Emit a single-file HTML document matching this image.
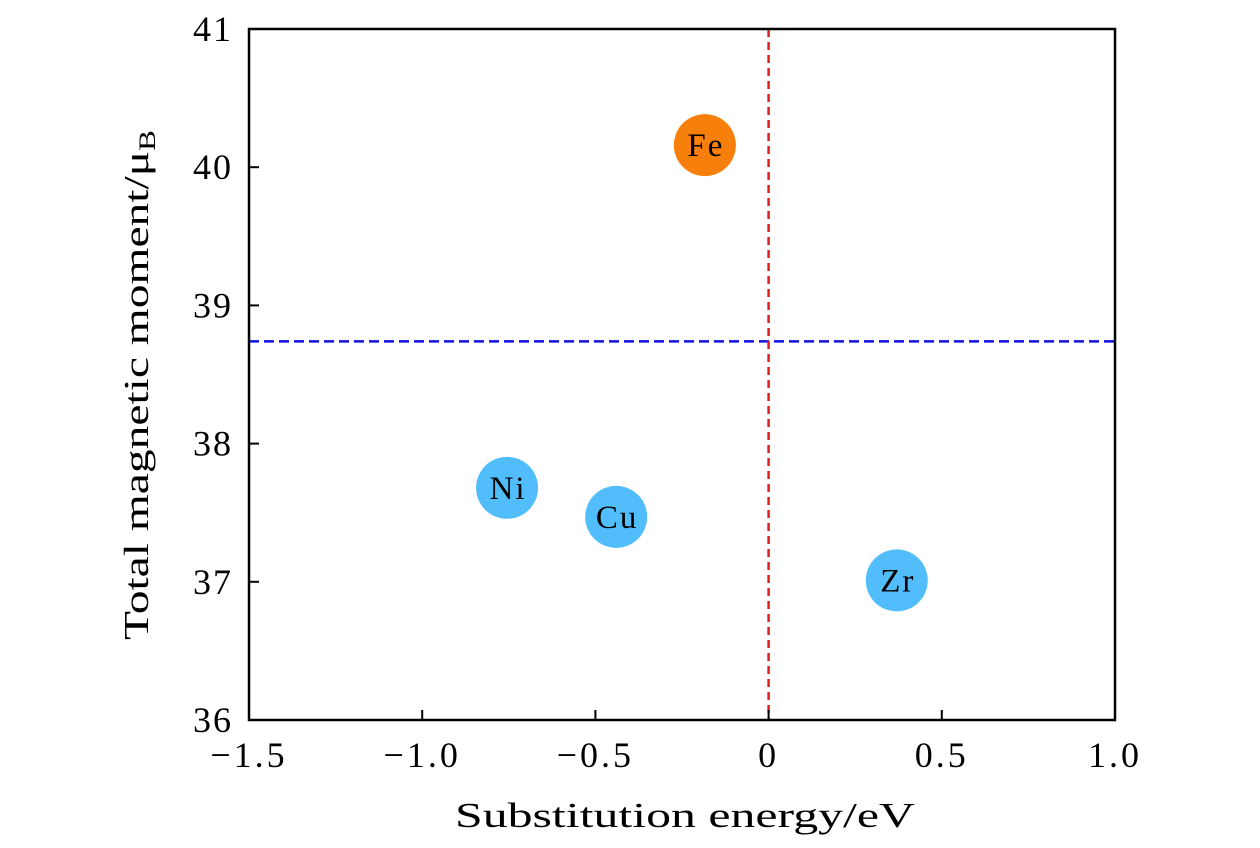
<!DOCTYPE html>
<html><head><meta charset="utf-8"><style>
body{margin:0;background:#fff}
svg text{font-family:"Liberation Serif",serif;fill:#000}
</style></head><body>
<svg id="chart" width="1260" height="843" viewBox="0 0 1260 843" xmlns="http://www.w3.org/2000/svg">
<g id="plot"></g>
</svg>
<script>
const xTicks=[-1.5,-1.0,-0.5,0,0.5,1.0];
const xTickLabels=["\u22121.5","\u22121.0","\u22120.5","0","0.5","1.0"];
const yTicks=[36,37,38,39,40,41];
const labels=["Fe","Ni","Cu","Zr"];
const energies=[-0.184,-0.755,-0.44,0.37];
const moments=[40.16,37.68,37.47,37.01];
const colors=["#f77f0b","#52bdfb","#52bdfb","#52bdfb"];
const refMoment=38.74;
const refEnergy=0;
const L=249,R=1115,T=29,B=720;
const X=v=>L+(v+1.5)/2.5*(R-L);
const Y=v=>B-(v-36)/5*(B-T);
const NS="http://www.w3.org/2000/svg";
const g=document.getElementById('plot');
function mk(t,a,p){const e=document.createElementNS(NS,t);for(const k in a)e.setAttribute(k,a[k]);(p||g).appendChild(e);return e;}
let e;
e=mk('line',{x1:L,x2:R,y1:Y(refMoment),y2:Y(refMoment),stroke:'#1010e0','stroke-width':2.5,'stroke-dasharray':'10,5'});


e=mk('line',{x1:X(refEnergy),x2:X(refEnergy),y1:T,y2:B,stroke:'#e02020','stroke-width':2.5,'stroke-dasharray':'8,5'});


for(let i=0;i<labels.length;i++){
 e=mk('circle',{cx:X(energies[i]),cy:Y(moments[i]),r:31,fill:colors[i]});
 
 
 e=mk('text',{x:X(energies[i])+1,y:Y(moments[i])+11,'font-size':33,'letter-spacing':2,'text-anchor':'middle'});
 e.textContent=labels[i];
 
 
}
e=mk('rect',{x:L,y:T,width:R-L,height:B-T,fill:'none',stroke:'#000','stroke-width':2.5});


xTicks.forEach((v,i)=>{
 e=mk('line',{x1:X(v),x2:X(v),y1:B,y2:B-10,stroke:'#000','stroke-width':2});
 
 
 e=mk('text',{x:X(v),y:B+47,'font-size':36,'letter-spacing':3,'text-anchor':'middle'});
 e.textContent=xTickLabels[i];
 
 
});
yTicks.forEach(v=>{
 e=mk('line',{x1:L,x2:L+10,y1:Y(v),y2:Y(v),stroke:'#000','stroke-width':2});
 
 
 e=mk('text',{x:L-16,y:Y(v)+12,'font-size':36,'letter-spacing':2,'text-anchor':'end'});
 e.textContent=v;
 
 
});
e=mk('text',{x:455,y:827,'font-size':35,textLength:460,lengthAdjust:'spacingAndGlyphs'});
e.textContent='Substitution energy/eV';


e=mk('text',{transform:'translate(148,640) rotate(-90)','font-size':35,textLength:510,lengthAdjust:'spacingAndGlyphs'});
e.innerHTML='Total magnetic moment/μ<tspan font-size="23" dy="7">B</tspan>';


</script>
</body></html>
